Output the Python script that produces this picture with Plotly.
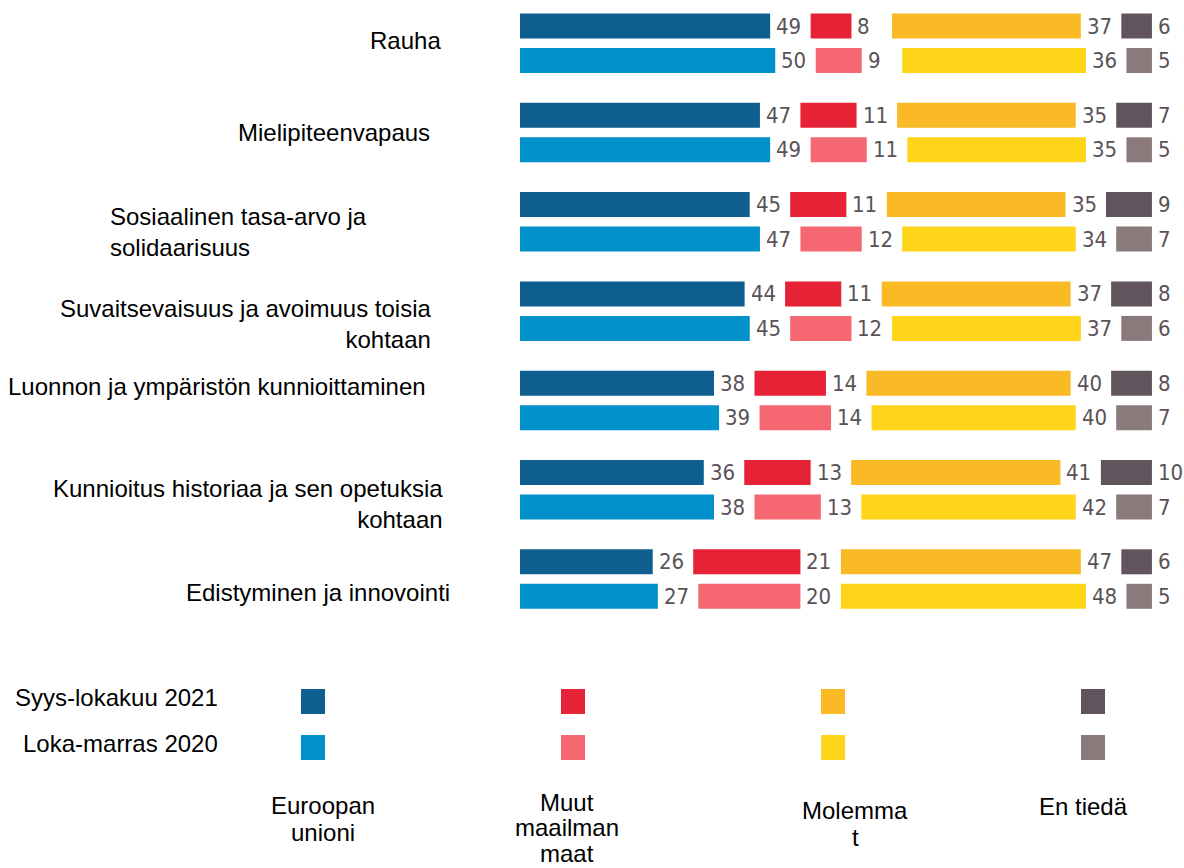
import plotly.graph_objects as go

# ---------------- data ----------------
categories = [
    "Rauha",
    "Mielipiteenvapaus",
    "Sosiaalinen tasa-arvo ja solidaarisuus",
    "Suvaitsevaisuus ja avoimuus toisia kohtaan",
    "Luonnon ja ympäristön kunnioittaminen",
    "Kunnioitus historiaa ja sen opetuksia kohtaan",
    "Edistyminen ja innovointi",
]
series_names = ["Euroopan unioni", "Muut maailman maat", "Molemmat", "En tiedä"]
years = ["Syys-lokakuu 2021", "Loka-marras 2020"]

eu_2021 = [49, 47, 45, 44, 38, 36, 26]
muut_2021 = [8, 11, 11, 11, 14, 13, 21]
molemmat_2021 = [37, 35, 35, 37, 40, 41, 47]
entieda_2021 = [6, 7, 9, 8, 8, 10, 6]

eu_2020 = [50, 49, 47, 45, 39, 38, 27]
muut_2020 = [9, 11, 12, 12, 14, 13, 20]
molemmat_2020 = [36, 35, 34, 37, 40, 42, 48]
entieda_2020 = [5, 5, 7, 6, 7, 7, 5]

colors_2021 = ["#0e5f8f", "#e52236", "#f9ba25", "#62545d"]
colors_2020 = ["#0090ca", "#f56771", "#fed518", "#8a7a7b"]

# ---------------- layout constants ----------------
W, H = 1184, 868
PX_PER_UNIT = 5.105        # horizontal scale
X0_PX = 520                # pixel where value 0 sits
GAP = 7.93                 # gap (in value units) between segments for labels
ROW_PX = 89.3              # spacing between category groups
FIRST_PX = 26              # pixel centre of first bar
PAIR_OFF = 34.5 / ROW_PX   # offset of 2020 bar within group
BAR_W = 25 / ROW_PX

def px(x):
    return x / W

def py(y):
    return 1 - y / H

data_by_year = {
    years[0]: [eu_2021, muut_2021, molemmat_2021, entieda_2021],
    years[1]: [eu_2020, muut_2020, molemmat_2020, entieda_2020],
}
color_by_year = {years[0]: colors_2021, years[1]: colors_2020}

fig = go.Figure()
annotations = []
label_font = dict(family="Liberation Sans Narrow, DejaVu Sans Condensed, sans-serif",
                  size=22, color="#5b5257")

for yi, yr in enumerate(years):
    ypos = [i + yi * PAIR_OFF for i in range(len(categories))]
    cum = [0.0] * len(categories)
    for k, vals in enumerate(data_by_year[yr]):
        bases = [cum[i] + k * GAP for i in range(len(categories))]
        fig.add_trace(go.Bar(
            x=vals, base=bases, y=ypos, orientation="h", width=BAR_W,
            marker=dict(color=color_by_year[yr][k], line=dict(width=0)),
            name=f"{series_names[k]} {yr}", showlegend=False, hoverinfo="skip",
        ))
        for i, v in enumerate(vals):
            annotations.append(dict(
                x=bases[i] + v, y=ypos[i], xref="x", yref="y", text=str(v),
                showarrow=False, xanchor="left", yanchor="middle", xshift=4,
                font=label_font,
            ))
        cum = [cum[i] + vals[i] for i in range(len(categories))]

# category labels
cat_font = dict(family="Liberation Sans, Arial, sans-serif", size=24, color="#000000")
cat_labels = [
    ("Rauha", 443, 41, "right", "right"),
    ("Mielipiteenvapaus", 432, 133, "right", "right"),
    ("Sosiaalinen tasa-arvo ja<br>solidaarisuus", 108, 232, "left", "left"),
    ("Suvaitsevaisuus ja avoimuus toisia<br>kohtaan", 434, 324, "right", "right"),
    ("Luonnon ja ympäristön kunnioittaminen", 428, 386, "right", "right"),
    ("Kunnioitus historiaa ja sen opetuksia<br>kohtaan", 445, 504, "right", "right"),
    ("Edistyminen ja innovointi", 452, 592, "right", "right"),
]
for text, x, y, xa, al in cat_labels:
    annotations.append(dict(x=px(x), y=py(y), xref="paper", yref="paper", text=text,
                            showarrow=False, xanchor=xa, yanchor="middle", align=al,
                            font=cat_font))

# legend
shapes = []
leg_x = [301, 561, 821, 1081]
leg_rows = [(689, 714), (735, 760)]
for yi, yr in enumerate(years):
    y0, y1 = leg_rows[yi]
    for k in range(4):
        shapes.append(dict(type="rect", xref="paper", yref="paper",
                           x0=px(leg_x[k]), x1=px(leg_x[k] + 24),
                           y0=py(y1), y1=py(y0),
                           fillcolor=color_by_year[yr][k], line=dict(width=0)))
    annotations.append(dict(x=px(220), y=py((y0 + y1) / 2 - 4), xref="paper", yref="paper",
                            text=yr, showarrow=False, xanchor="right", yanchor="middle",
                            font=cat_font))

# legend category names, wrapped as in the original (one annotation per line)
leg_labels = [
    (["Euroopan", "unioni"], 323, 805, 27.5),
    (["Muut", "maailman", "maat"], 567, 802, 25.5),
    (["Molemma", "t"], 855, 810, 27.5),
    (["En tiedä"], 1083, 806, 27.5),
]
for lines, x, y, step in leg_labels:
    for j, line in enumerate(lines):
        annotations.append(dict(x=px(x), y=py(y + j * step), xref="paper", yref="paper",
                                text=line, showarrow=False, xanchor="center",
                                yanchor="middle", align="center", font=cat_font))

x_lo = -X0_PX / PX_PER_UNIT
x_hi = (W - X0_PX) / PX_PER_UNIT
y_top = -FIRST_PX / ROW_PX
y_bot = (H - FIRST_PX) / ROW_PX

fig.update_layout(
    width=W, height=H, margin=dict(l=0, r=0, t=0, b=0),
    paper_bgcolor="white", plot_bgcolor="white",
    barmode="overlay",
    xaxis=dict(range=[x_lo, x_hi], visible=False, fixedrange=True),
    yaxis=dict(range=[y_bot, y_top], visible=False, fixedrange=True),
    annotations=annotations, shapes=shapes,
    showlegend=False,
)

fig.write_html("out.html", config={"displayModeBar": False},
               post_script="document.body.style.margin='0';document.body.style.overflow='hidden';")
